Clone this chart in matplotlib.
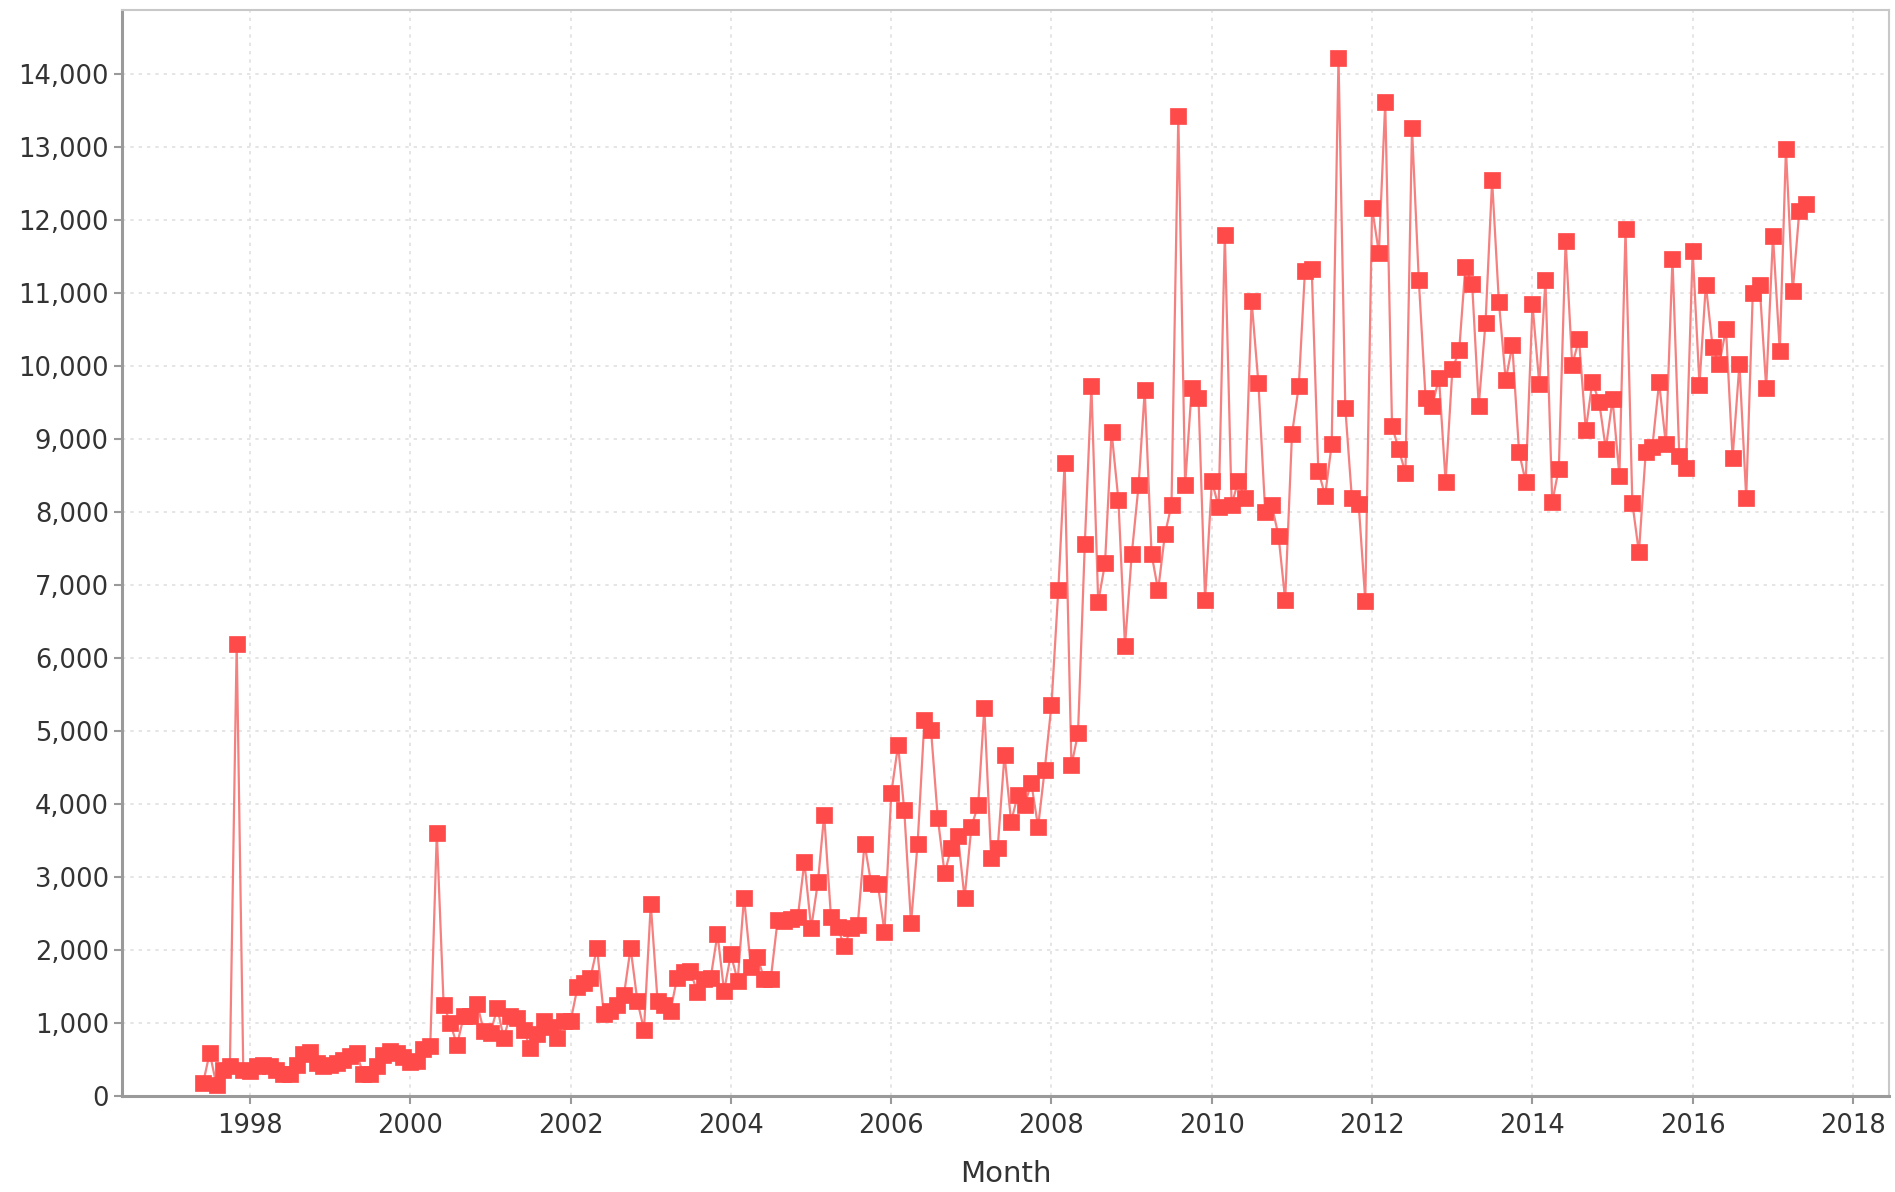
import matplotlib
matplotlib.use("Agg")
import matplotlib.pyplot as plt
import matplotlib.dates as mdates
from matplotlib.ticker import FuncFormatter
import pandas as pd
import datetime as dt

# ---- data (monthly, Jun 1997 - Jun 2017) ----
start_month = "1997-06-01"
v1997 = [180, 590, 150, 360, 410, 6200, 360]
v1998 = [340, 410, 430, 410, 360, 300, 300, 430, 580, 600, 450, 410]
v1999 = [430, 450, 500, 550, 590, 300, 300, 410, 560, 620, 590, 540]
v2000 = [470, 480, 650, 680, 3610, 1250, 1000, 700, 1100, 1100, 1260, 890]
v2001 = [870, 1210, 800, 1100, 1070, 900, 660, 850, 1030, 950, 800, 1030]
v2002 = [1030, 1490, 1550, 1620, 2030, 1120, 1170, 1250, 1390, 2030, 1300, 910]
v2003 = [2630, 1300, 1250, 1170, 1620, 1700, 1710, 1420, 1600, 1620, 2220, 1440]
v2004 = [1940, 1580, 2720, 1770, 1910, 1600, 1610, 2410, 2400, 2420, 2450, 3210]
v2005 = [2300, 2940, 3850, 2460, 2320, 2050, 2300, 2340, 3460, 2920, 2900, 2250]
v2006 = [4150, 4810, 3920, 2370, 3460, 5150, 5020, 3810, 3050, 3400, 3560, 2710]
v2007 = [3690, 3990, 5320, 3260, 3400, 4680, 3760, 4130, 3990, 4290, 3690, 4470]
v2008 = [5360, 6930, 8670, 4530, 4970, 7570, 9730, 6770, 7300, 9100, 8170, 6170]
v2009 = [7430, 8370, 9670, 7430, 6930, 7700, 8100, 13430, 8370, 9700, 9570, 6800]
v2010 = [8430, 8070, 11800, 8100, 8430, 8200, 10900, 9770, 8000, 8100, 7670, 6800]
v2011 = [9070, 9730, 11300, 11330, 8570, 8230, 8930, 14230, 9430, 8190, 8110, 6790]
v2012 = [12170, 11560, 13620, 9180, 8870, 8540, 13260, 11180, 9560, 9460, 9840, 8420]
v2013 = [9960, 10220, 11360, 11130, 9460, 10600, 12550, 10880, 9810, 10290, 8820, 8420]
v2014 = [10850, 9760, 11180, 8140, 8600, 11720, 10020, 10370, 9130, 9790, 9510, 8870]
v2015 = [9550, 8500, 11880, 8130, 7450, 8820, 8890, 9780, 8930, 11470, 8770, 8610]
v2016 = [11580, 9750, 11120, 10260, 10030, 10510, 8750, 10030, 8200, 11010, 11120, 9710]
v2017 = [11790, 10210, 12980, 11030, 12130, 12220]

values = (v1997 + v1998 + v1999 + v2000 + v2001 + v2002 + v2003 + v2004 +
          v2005 + v2006 + v2007 + v2008 + v2009 + v2010 + v2011 + v2012 +
          v2013 + v2014 + v2015 + v2016 + v2017)
months = pd.date_range(start_month, periods=len(values), freq="MS")

x_label = "Month"
y_ticks = list(range(0, 15000, 1000))


def decimal_year(y):
    year = int(y)
    frac = y - year
    d0 = dt.datetime(year, 1, 1)
    d1 = dt.datetime(year + 1, 1, 1)
    return d0 + (d1 - d0) * frac


fig = plt.figure(figsize=(18.95, 11.92), dpi=100)
ax = fig.add_axes([0.0644, 0.0805, 0.9325, 0.9115])

ax.plot(months, values, color="#f58080", linewidth=1.6, zorder=2)
ax.plot(months, values, linestyle="none", marker="s", markersize=11.5,
        markerfacecolor="#ff4a4a", markeredgecolor="#ff4a4a",
        markeredgewidth=0.5, zorder=3)

ax.set_xlim(decimal_year(1996.403), decimal_year(2018.45))
ax.set_ylim(0, 14890)

ax.xaxis.set_major_locator(mdates.YearLocator(2))
ax.xaxis.set_major_formatter(mdates.DateFormatter("%Y"))
ax.set_yticks(y_ticks)
ax.yaxis.set_major_formatter(FuncFormatter(lambda v, p: f"{int(v):,}"))

ax.grid(True, color="#e0e0e0", linestyle=(0, (2, 3)), linewidth=1.2, zorder=0)
ax.set_axisbelow(True)

for side in ["left", "bottom"]:
    ax.spines[side].set_color("#9a9a9a")
    ax.spines[side].set_linewidth(2.2)
for side in ["top", "right"]:
    ax.spines[side].set_color("#c8c8c8")
    ax.spines[side].set_linewidth(1.5)

ax.tick_params(axis="both", labelsize=18.5, labelcolor="#333333",
               color="#9a9a9a", length=6, width=1.5)
ax.tick_params(axis="x", pad=6)

ax.set_xlabel(x_label, fontsize=21, color="#333333", labelpad=15)

fig.savefig("out.png", dpi=100, facecolor="white")
